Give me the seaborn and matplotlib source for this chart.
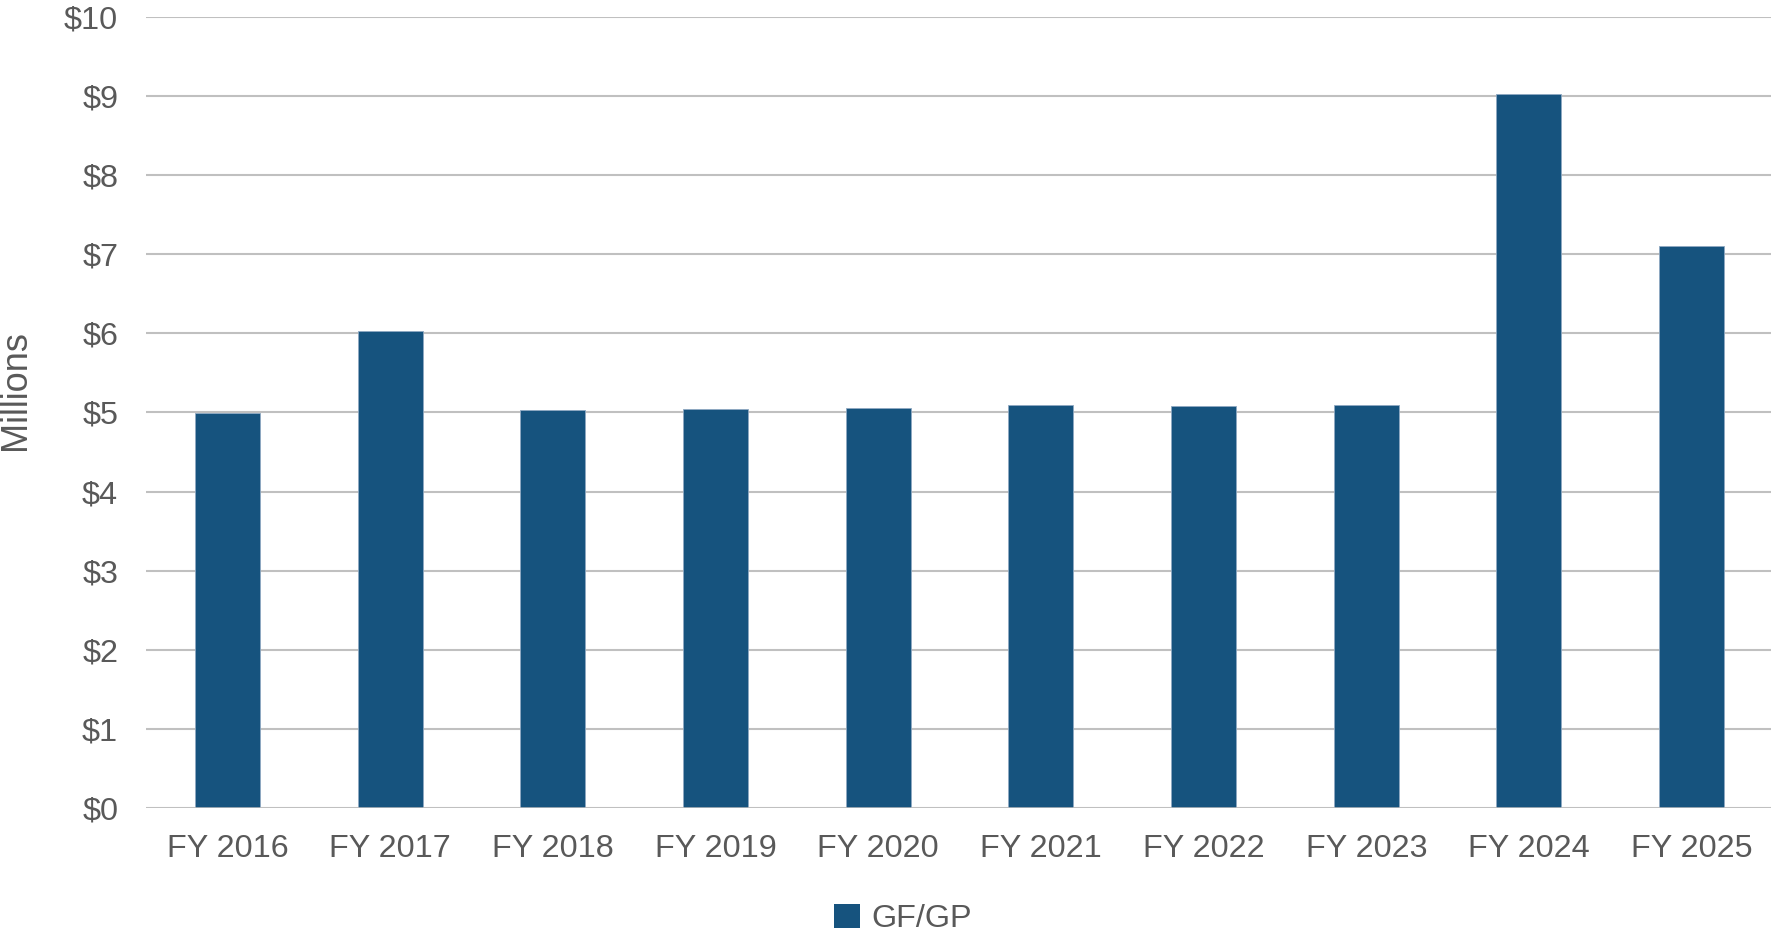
import matplotlib
matplotlib.use("Agg")
import matplotlib.pyplot as plt
import seaborn as sns
import pandas as pd

categories = ["FY 2016", "FY 2017", "FY 2018", "FY 2019", "FY 2020",
              "FY 2021", "FY 2022", "FY 2023", "FY 2024", "FY 2025"]
values = [4.99, 6.03, 5.03, 5.05, 5.06, 5.09, 5.08, 5.10, 9.03, 7.11]
y_ticks = list(range(0, 11))
series_name = "GF/GP"

sns.set_theme(style="white")
plt.rcParams['font.family'] = ['Liberation Sans', 'DejaVu Sans']

fig = plt.figure(figsize=(17.71, 9.34), dpi=100)
ax = fig.add_axes([146 / 1771, 1 - 808 / 934, (1773 - 146) / 1771, (808 - 17) / 934])

df = pd.DataFrame({"year": categories, "value": values})
sns.barplot(data=df, x="year", y="value", color="#16537E", saturation=1,
            width=0.4, ax=ax, label=series_name, zorder=3,
            edgecolor="#8FA9C2", linewidth=0.6)

ax.set_ylim(0, 10)
ax.set_xlim(-0.5, 9.5)
ax.set_yticks(y_ticks)
ax.set_yticklabels([f"${t}" for t in y_ticks])
ax.yaxis.grid(True, color="#C0C0C0", linewidth=1.5, zorder=0)
ax.xaxis.grid(False)
for s in ["top", "right", "left", "bottom"]:
    ax.spines[s].set_visible(False)
ax.axhline(0, color="#C0C0C0", linewidth=1.8, zorder=4)

fs = 23.3
ax.tick_params(axis="y", length=0, pad=20, labelsize=fs, labelcolor="#595959")
ax.tick_params(axis="x", length=0, pad=18.5, labelsize=fs, labelcolor="#595959")
ax.set_xlabel("")
ax.set_ylabel("")

fig.text(16 / 1771, 1 - 390 / 934, "Millions", rotation=90, ha="center", va="center",
         fontsize=26, color="#595959")

leg = ax.legend(loc="center", bbox_to_anchor=(903 / 1771, 1 - 919 / 934),
                bbox_transform=fig.transFigure, frameon=False, fontsize=fs,
                handlelength=0.8, handleheight=0.8, handletextpad=0.35,
                labelcolor="#595959")
for h in leg.legend_handles:
    h.set_edgecolor("none")

fig.savefig("out.png", dpi=100)
